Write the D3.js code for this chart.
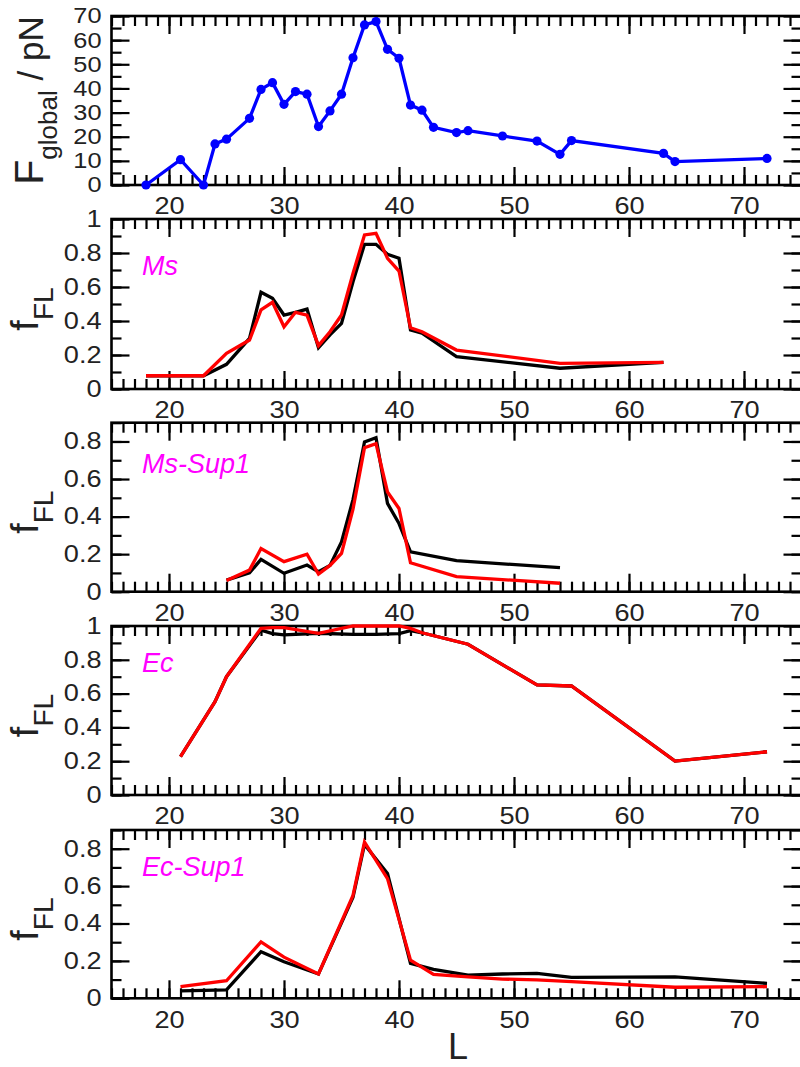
<!DOCTYPE html>
<html>
<head>
<meta charset="utf-8">
<script src="https://cdn.jsdelivr.net/npm/d3@7"></script>
<style>
  html, body { margin: 0; padding: 0; background: #fff; }
  svg { display: block; font-family: "Liberation Sans", Arial, Helvetica, sans-serif; }
</style>
</head>
<body>
<svg id="chart" width="800" height="1067"></svg>
<script>
// ---------------- DATA ----------------
const xTickLabels = [20, 30, 40, 50, 60, 70];
const FTickLabels = [0, 10, 20, 30, 40, 50, 60, 70];
const fTickLabelsFull = [0, 0.2, 0.4, 0.6, 0.8, 1];
const fTickLabelsShort = [0, 0.2, 0.4, 0.6, 0.8];

// Panel 1: F_global / pN
const globalL = [18, 21, 23, 24, 25, 27, 28, 29, 30, 31, 32, 33, 34, 35, 36, 37, 38, 39, 40, 41, 42, 43, 45, 46, 49, 52, 54, 55, 63, 64, 72];
const globalF = [0, 10.5, 0, 17, 19, 27.6, 39.6, 42.4, 33.4, 38.7, 37.6, 24.2, 30.7, 37.6, 52.7, 66.3, 67.7, 56.2, 52.5, 33.1, 31, 23.9, 21.7, 22.5, 20.3, 18.2, 12.7, 18.4, 13.1, 9.7, 11];

// Panel 2: Ms
const msL = [18, 21, 23, 25, 27, 28, 29, 30, 31, 32, 33, 34, 35, 36, 37, 38, 39, 40, 41, 42, 45, 54, 63];
const msBlack = [0.078, 0.078, 0.078, 0.145, 0.298, 0.569, 0.534, 0.435, 0.451, 0.47, 0.243, 0.318, 0.386, 0.631, 0.851, 0.851, 0.792, 0.769, 0.347, 0.328, 0.19, 0.122, 0.157];
const msRed   = [0.078, 0.078, 0.078, 0.21, 0.288, 0.465, 0.51, 0.366, 0.451, 0.435, 0.255, 0.337, 0.435, 0.68, 0.906, 0.916, 0.769, 0.694, 0.36, 0.337, 0.229, 0.151, 0.157];

// Panel 3: Ms-Sup1
const msSupL = [25, 27, 28, 30, 32, 33, 34, 35, 36, 37, 38, 39, 40, 41, 45, 54];
const msSupBlack = [0.062, 0.10, 0.172, 0.098, 0.142, 0.106, 0.14, 0.265, 0.49, 0.797, 0.82, 0.47, 0.363, 0.212, 0.165, 0.128];
const msSupRed   = [0.06, 0.115, 0.23, 0.16, 0.2, 0.094, 0.14, 0.204, 0.44, 0.767, 0.788, 0.531, 0.443, 0.154, 0.08, 0.045];

// Panel 4: Ec
const ecL = [21, 24, 25, 28, 29, 30, 33, 36, 37, 38, 40, 41, 42, 46, 52, 55, 64, 72];
const ecBlack = [0.227, 0.552, 0.7, 0.976, 0.955, 0.947, 0.957, 0.95, 0.95, 0.95, 0.955, 0.972, 0.96, 0.892, 0.651, 0.645, 0.201, 0.256];
const ecRed   = [0.227, 0.552, 0.7, 0.986, 0.99, 0.99, 0.957, 1.0, 1.0, 1.0, 1.0, 0.986, 0.96, 0.892, 0.651, 0.645, 0.201, 0.256];

// Panel 5: Ec-Sup1
const ecSupL = [21, 25, 28, 30, 33, 36, 37, 39, 41, 43, 46, 49, 52, 55, 64, 72];
const ecSupBlack = [0.04, 0.045, 0.249, 0.195, 0.13, 0.54, 0.823, 0.667, 0.187, 0.155, 0.124, 0.13, 0.133, 0.112, 0.115, 0.08];
const ecSupRed   = [0.062, 0.094, 0.302, 0.22, 0.13, 0.55, 0.835, 0.64, 0.204, 0.128, 0.115, 0.103, 0.098, 0.089, 0.059, 0.062];

// ---------------- LAYOUT ----------------
const svg = d3.select("#chart");
const x = d3.scaleLinear().domain([15, 75]).range([111.5, 801.5]);
const xMinor = d3.range(15, 76, 1);

const panels = [
  { top: 16, bottom: 185, ymax: 70, ticks: FTickLabels, minorStep: 5, title: "F", yFont: 21.5,
    series: [{ L: globalL, v: globalF, color: "#0000ff", markers: true }] },
  { top: 219, bottom: 389, ymax: 1, ticks: fTickLabelsFull, minorStep: 0.1, label: "Ms", labelY: 275, yFont: 23,
    series: [{ L: msL, v: msBlack, color: "#000" }, { L: msL, v: msRed, color: "#ff0000" }] },
  { top: 422.7, bottom: 591.7, ymax: 0.9, ticks: fTickLabelsShort, minorStep: 0.1, label: "Ms-Sup1", labelY: 473, yFont: 23,
    series: [{ L: msSupL, v: msSupBlack, color: "#000" }, { L: msSupL, v: msSupRed, color: "#ff0000" }] },
  { top: 626, bottom: 795, ymax: 1, ticks: fTickLabelsFull, minorStep: 0.1, label: "Ec", labelY: 672, yFont: 23,
    series: [{ L: ecL, v: ecBlack, color: "#000" }, { L: ecL, v: ecRed, color: "#ff0000" }] },
  { top: 830, bottom: 998.3, ymax: 0.9, ticks: fTickLabelsShort, minorStep: 0.1, label: "Ec-Sup1", labelY: 876, yFont: 23,
    series: [{ L: ecSupL, v: ecSupBlack, color: "#000" }, { L: ecSupL, v: ecSupRed, color: "#ff0000" }] }
];

const fmt = d => (d === 0 ? "0" : d3.format("~g")(d));
const x0 = x.range()[0], x1 = x.range()[1];

function styleAxis(g, fontSize) {
  g.select(".domain").remove();
  g.selectAll(".tick line").attr("stroke", "#000").attr("stroke-width", 2.2);
  g.selectAll(".tick text").attr("fill", "#222").attr("font-size", fontSize || 23)
    .attr("font-family", "'Liberation Sans', Arial, sans-serif")
    .each(function () {
      const t = d3.select(this);
      if (!t.text()) return;
      const len = this.getComputedTextLength();
      t.attr("textLength", (len * 1.18).toFixed(1)).attr("lengthAdjust", "spacingAndGlyphs");
    });
}

panels.forEach((p, i) => {
  const y = d3.scaleLinear().domain([0, p.ymax]).range([p.bottom, p.top]);
  const yMinor = d3.range(0, p.ymax + 1e-9, p.minorStep).map(v => +v.toFixed(4));
  const g = svg.append("g");

  // minor ticks
  g.append("g").attr("transform", `translate(0,${p.bottom})`)
    .call(d3.axisBottom(x).tickValues(xMinor).tickSize(-10).tickFormat("")).call(styleAxis);
  g.append("g").attr("transform", `translate(0,${p.top})`)
    .call(d3.axisTop(x).tickValues(xMinor).tickSize(-10).tickFormat("")).call(styleAxis);
  g.append("g").attr("transform", `translate(${x0},0)`)
    .call(d3.axisLeft(y).tickValues(yMinor).tickSize(-10).tickFormat("")).call(styleAxis);
  g.append("g").attr("transform", `translate(${x1},0)`)
    .call(d3.axisRight(y).tickValues(yMinor).tickSize(-10).tickFormat("")).call(styleAxis);

  // major ticks
  g.append("g").attr("transform", `translate(0,${p.bottom})`)
    .call(d3.axisBottom(x).tickValues(xTickLabels).tickSize(-18).tickPadding(13).tickFormat(d3.format("d")))
    .call(styleAxis, 23);
  g.append("g").attr("transform", `translate(0,${p.top})`)
    .call(d3.axisTop(x).tickValues(xTickLabels).tickSize(-18).tickFormat("")).call(styleAxis);
  g.append("g").attr("transform", `translate(${x0},0)`)
    .call(d3.axisLeft(y).tickValues(p.ticks).tickSize(-18).tickPadding(10).tickFormat(fmt))
    .call(styleAxis, p.yFont);
  g.append("g").attr("transform", `translate(${x1},0)`)
    .call(d3.axisRight(y).tickValues(p.ticks).tickSize(-18).tickFormat("")).call(styleAxis);

  // frame
  g.append("rect").attr("x", x0).attr("y", p.top).attr("width", x1 - x0).attr("height", p.bottom - p.top)
    .attr("fill", "none").attr("stroke", "#000").attr("stroke-width", 2.6);

  // data
  const line = d3.line().x(d => x(d[0])).y(d => y(d[1]));
  p.series.forEach(s => {
    const pts = s.L.map((L, k) => [L, s.v[k]]);
    g.append("path").datum(pts).attr("d", line).attr("fill", "none")
      .attr("stroke", s.color).attr("stroke-width", 3.3).attr("stroke-linejoin", "miter");
    if (s.markers) {
      g.selectAll(null).data(pts).enter().append("circle")
        .attr("cx", d => x(d[0])).attr("cy", d => y(d[1])).attr("r", 4.6).attr("fill", s.color);
    }
  });

  // y-axis title
  const cy = (p.top + p.bottom) / 2;
  if (p.title === "F") {
    const t = svg.append("text").attr("transform", `translate(43,${cy}) rotate(-90)`)
      .attr("text-anchor", "middle").attr("fill", "#222");
    t.append("tspan").attr("font-size", 41).text("F");
    t.append("tspan").attr("font-size", 26).attr("dy", 14).text("global");
    t.append("tspan").attr("font-size", 35).attr("dy", -14).text(" / pN");
  } else {
    const t = svg.append("text").attr("transform", `translate(38,${cy + 5}) rotate(-90)`)
      .attr("text-anchor", "middle").attr("fill", "#222");
    t.append("tspan").attr("font-size", 38).text("f");
    t.append("tspan").attr("font-size", 28).attr("dy", 15).text("FL");
  }

  if (p.label) {
    svg.append("text").attr("x", 142).attr("y", p.labelY).attr("font-size", 27)
      .attr("font-style", "italic").attr("fill", "#ff00ff").text(p.label);
  }
});

svg.append("text").attr("x", 458).attr("y", 1059).attr("text-anchor", "middle")
  .attr("font-size", 36).attr("fill", "#222").text("L");
</script>
</body>
</html>
